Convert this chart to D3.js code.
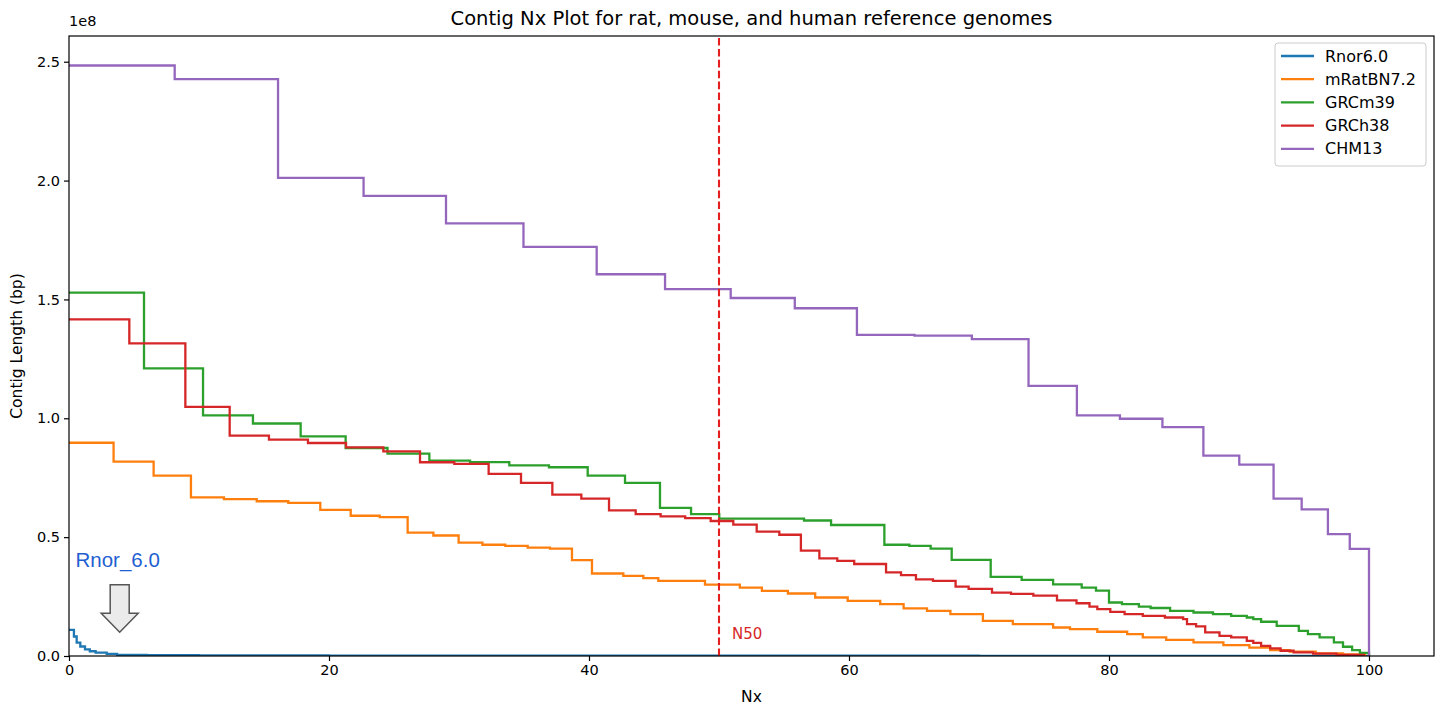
<!DOCTYPE html>
<html>
<head>
<meta charset="utf-8">
<script src="https://cdn.jsdelivr.net/npm/d3@7/dist/d3.min.js"></script>
<style>
  html, body { margin: 0; padding: 0; background: #ffffff; }
  svg { display: block; }
  text { font-family: "DejaVu Sans", sans-serif; fill: #000; }
</style>
</head>
<body>
<svg id="chart" width="1443" height="709"></svg>
<script>
// Series names and colours
const seriesNames = ["Rnor6.0", "mRatBN7.2", "GRCm39", "GRCh38", "CHM13"];
const seriesColors = ["#1f77b4", "#ff7f0e", "#2ca02c", "#d62728", "#9467bd"];

// Step start positions (Nx, %) and contig lengths (Mb) for each assembly
const rnorNx  = [0, 0.38, 0.59, 0.87, 1.23, 1.6, 2.05, 2.9, 3.7, 6, 10, 20, 40, 70, 100];
const rnorLen = [11.0, 8.2, 5.6, 4.0, 2.8, 2.0, 1.4, 0.9, 0.5, 0.35, 0.25, 0.18, 0.1, 0.04, 0];

const mratNx  = [0, 3.43, 6.51, 9.38, 11.92, 14.44, 16.87, 19.33, 21.67, 23.9,
                 26.05, 28.03, 29.97, 31.8, 33.56, 35.28, 37.0, 38.69, 40.23, 42.64,
                 44.18, 45.33, 48.92, 51.6, 53.3, 55.3, 57.4, 59.9, 62.4, 64.2,
                 66.0, 67.8, 70.3, 72.6, 75.7, 77.0, 79.1, 81.4, 82.6, 84.4,
                 86.5, 88.8, 90.8, 92.4, 93.9, 95.9, 98.0, 99.7];
const mratLen = [89.7, 81.8, 75.9, 66.7, 66.0, 65.1, 64.4, 61.5, 59.0, 58.4,
                 51.9, 50.7, 47.7, 46.8, 46.3, 45.6, 45.2, 40.3, 34.7, 33.7,
                 32.8, 31.6, 30.0, 28.8, 27.4, 26.3, 24.6, 23.2, 21.8, 20.0,
                 19.0, 17.6, 14.8, 13.4, 12.0, 11.3, 10.2, 9.2, 7.8, 6.8,
                 5.7, 4.6, 3.5, 2.5, 1.8, 1.1, 0.7, 0];

const grcm39Nx  = [0, 5.77, 10.31, 14.15, 17.82, 21.28, 24.5, 27.72, 30.85, 33.87,
                   36.92, 39.9, 42.77, 45.46, 47.85, 50.02, 56.54, 58.62, 62.72, 64.64,
                   66.28, 67.9, 70.9, 73.28, 75.7, 77.9, 79.0, 80.0, 81.0, 82.3,
                   83.2, 84.7, 86.5, 88.0, 89.4, 90.6, 91.1, 91.7, 92.9, 94.6,
                   95.3, 96.2, 97.3, 98.0, 98.7, 99.3, 100];
const grcm39Len = [152.9, 121.0, 101.2, 97.8, 92.4, 87.5, 85.1, 82.2, 81.6, 80.2,
                   79.4, 75.9, 72.8, 62.3, 59.7, 57.8, 57.0, 55.1, 46.8, 46.3,
                   45.2, 40.4, 33.3, 32.0, 30.1, 28.8, 27.5, 22.5, 21.8, 20.8,
                   20.2, 19.0, 18.3, 17.6, 16.9, 16.2, 15.5, 14.4, 12.7, 10.6,
                   9.2, 7.8, 5.7, 3.9, 2.5, 1.3, 0];

const grch38Nx  = [0, 4.64, 8.95, 12.36, 15.38, 18.38, 21.31, 24.18, 27.0, 29.64,
                   32.28, 34.77, 37.18, 39.41, 41.54, 43.59, 45.51, 47.4, 49.36, 51.1,
                   52.9, 54.64, 56.3, 57.72, 59.1, 60.4, 62.85, 64.0, 65.15, 66.46,
                   68.2, 69.2, 71.0, 72.46, 74.18, 76.0, 77.5, 78.5, 79.1, 80.1,
                   81.2, 82.6, 84.3, 85.7, 86.0, 86.7, 87.4, 88.5, 89.4, 90.6,
                   91.1, 91.7, 92.4, 93.2, 94.2, 95.7, 97.5, 99.6];
const grch38Len = [141.6, 131.5, 104.8, 92.7, 91.0, 89.6, 87.8, 86.1, 81.5, 80.8,
                   76.6, 72.8, 67.9, 66.2, 61.3, 59.7, 58.7, 58.0, 56.8, 55.3,
                   52.3, 51.0, 44.3, 41.1, 40.0, 38.7, 35.2, 34.0, 32.2, 31.6,
                   29.2, 28.2, 26.7, 26.1, 25.4, 23.4, 22.2, 20.8, 19.7, 18.6,
                   17.6, 16.9, 16.2, 15.5, 13.4, 12.5, 9.9, 8.5, 7.8, 6.4,
                   5.5, 4.3, 3.2, 2.2, 1.5, 1.0, 0.5, 0];

const chm13Nx  = [0, 8.13, 16.08, 22.66, 29.0, 34.96, 40.59, 45.85, 50.9, 55.83,
                  60.61, 65.04, 69.45, 73.81, 77.53, 80.84, 84.11, 87.26, 90.02, 92.66,
                  94.82, 96.84, 98.52, 100];
const chm13Len = [248.4, 242.7, 201.1, 193.6, 182.0, 172.1, 160.6, 154.3, 150.6, 146.3,
                  135.1, 134.8, 133.3, 113.6, 101.2, 99.8, 96.3, 84.3, 80.5, 66.2,
                  61.7, 51.3, 45.1, 0];

// Axis ticks
const xTicks = [0, 20, 40, 60, 80, 100];
const xTickLabels = ["0", "20", "40", "60", "80", "100"];
const yTicks = [0, 0.5e8, 1.0e8, 1.5e8, 2.0e8, 2.5e8];
const yTickLabels = ["0.0", "0.5", "1.0", "1.5", "2.0", "2.5"];

const nxSeries = [rnorNx, mratNx, grcm39Nx, grch38Nx, chm13Nx];
const lenSeries = [rnorLen, mratLen, grcm39Len, grch38Len, chm13Len];

const series = seriesNames.map((name, i) => ({
  name,
  color: seriesColors[i],
  points: nxSeries[i].map((nx, j) => ({ nx, bp: lenSeries[i][j] * 1e6 }))
}));

const svg = d3.select("#chart");
const margin = { left: 69, top: 36, right: 9, bottom: 53 };
const width = 1443, height = 709;
const plotW = width - margin.left - margin.right;
const plotH = height - margin.top - margin.bottom;

const x = d3.scaleLinear().domain([0, 105]).range([margin.left, margin.left + plotW]);
const y = d3.scaleLinear().domain([0, 248.4e6 * 1.05]).range([margin.top + plotH, margin.top]);

// Clip so the step lines stay inside the axes
svg.append("defs").append("clipPath").attr("id", "plot-clip")
  .append("rect")
  .attr("x", margin.left).attr("y", margin.top)
  .attr("width", plotW).attr("height", plotH);

// Step lines
const line = d3.line()
  .x(d => x(d.nx))
  .y(d => y(d.bp))
  .curve(d3.curveStepAfter);

const lines = svg.append("g").attr("clip-path", "url(#plot-clip)");
series.forEach(s => {
  lines.append("path")
    .datum(s.points)
    .attr("fill", "none")
    .attr("stroke", s.color)
    .attr("stroke-width", 2.3)
    .attr("stroke-linejoin", "miter")
    .attr("d", line);
});

// N50 marker
const n50 = 50;
svg.append("line")
  .attr("x1", x(n50)).attr("x2", x(n50))
  .attr("y1", y.range()[0]).attr("y2", y.range()[1])
  .attr("stroke", "#e41f1f")
  .attr("stroke-width", 2.1)
  .attr("stroke-dasharray", "7.6,3.3");
svg.append("text")
  .attr("x", x(51)).attr("y", y(0.07e8))
  .attr("font-size", 15)
  .style("fill", "#d62728")
  .text("N50");

// Axes
const xAxis = d3.axisBottom(x).tickValues(xTicks)
  .tickFormat((d, i) => xTickLabels[i]).tickSize(5).tickPadding(4);
const yAxis = d3.axisLeft(y).tickValues(yTicks)
  .tickFormat((d, i) => yTickLabels[i]).tickSize(5).tickPadding(4);

const gx = svg.append("g")
  .attr("transform", `translate(0,${margin.top + plotH})`)
  .call(xAxis);
const gy = svg.append("g")
  .attr("transform", `translate(${margin.left},0)`)
  .call(yAxis);
[gx, gy].forEach(g => {
  g.select(".domain").remove();
  g.selectAll(".tick line").attr("stroke", "#000").attr("stroke-width", 1.2);
  g.selectAll(".tick text")
    .attr("font-size", 14.5)
    .style("font-family", '"DejaVu Sans", sans-serif')
    .style("fill", "#000");
});

// Frame
svg.append("rect")
  .attr("x", margin.left).attr("y", margin.top)
  .attr("width", plotW).attr("height", plotH)
  .attr("fill", "none").attr("stroke", "#000").attr("stroke-width", 1.2);

// Offset label for the y axis
svg.append("text")
  .attr("x", margin.left).attr("y", 26)
  .attr("font-size", 14.5)
  .text("1e8");

// Title and axis labels
svg.append("text")
  .attr("x", margin.left + plotW / 2).attr("y", 25)
  .attr("text-anchor", "middle")
  .attr("font-size", 19.5)
  .text("Contig Nx Plot for rat, mouse, and human reference genomes");

svg.append("text")
  .attr("x", margin.left + plotW / 2).attr("y", 702)
  .attr("text-anchor", "middle")
  .attr("font-size", 15.5)
  .text("Nx");

svg.append("text")
  .attr("transform", `translate(22,${margin.top + plotH / 2}) rotate(-90)`)
  .attr("text-anchor", "middle")
  .attr("font-size", 15.5)
  .text("Contig Length (bp)");

// Callout for the barely visible Rnor6.0 curve
svg.append("text")
  .attr("x", x(0.5)).attr("y", y(0.375e8))
  .attr("font-size", 20.5)
  .style("font-family", '"Liberation Sans", Arial, sans-serif')
  .style("fill", "#1f5fd2")
  .text("Rnor_6.0");

const ax = x(3.9);
const yTop = y(0.3e8), yNeck = y(0.18e8), yTip = y(0.1e8);
const shaft = 9.5, head = 18.5;
const arrowPts = [
  [ax - shaft, yTop], [ax + shaft, yTop], [ax + shaft, yNeck], [ax + head, yNeck],
  [ax, yTip], [ax - head, yNeck], [ax - shaft, yNeck]
];
svg.append("path")
  .attr("d", d3.line()(arrowPts) + "Z")
  .attr("fill", "#ebebeb")
  .attr("stroke", "#555")
  .attr("stroke-width", 1.5)
  .attr("stroke-linejoin", "miter");

// Legend
const lg = svg.append("g").attr("transform", "translate(1275,43)");
lg.append("rect")
  .attr("width", 151).attr("height", 123)
  .attr("rx", 3).attr("ry", 3)
  .attr("fill", "#ffffff").attr("fill-opacity", 0.85)
  .attr("stroke", "#cccccc").attr("stroke-width", 1);
series.forEach((s, i) => {
  const ry = 13 + i * 23.2;
  lg.append("line")
    .attr("x1", 6).attr("x2", 39)
    .attr("y1", ry).attr("y2", ry)
    .attr("stroke", s.color).attr("stroke-width", 2.3);
  lg.append("text")
    .attr("x", 50).attr("y", ry + 5.5)
    .attr("font-size", 16)
    .text(s.name);
});
</script>
</body>
</html>
